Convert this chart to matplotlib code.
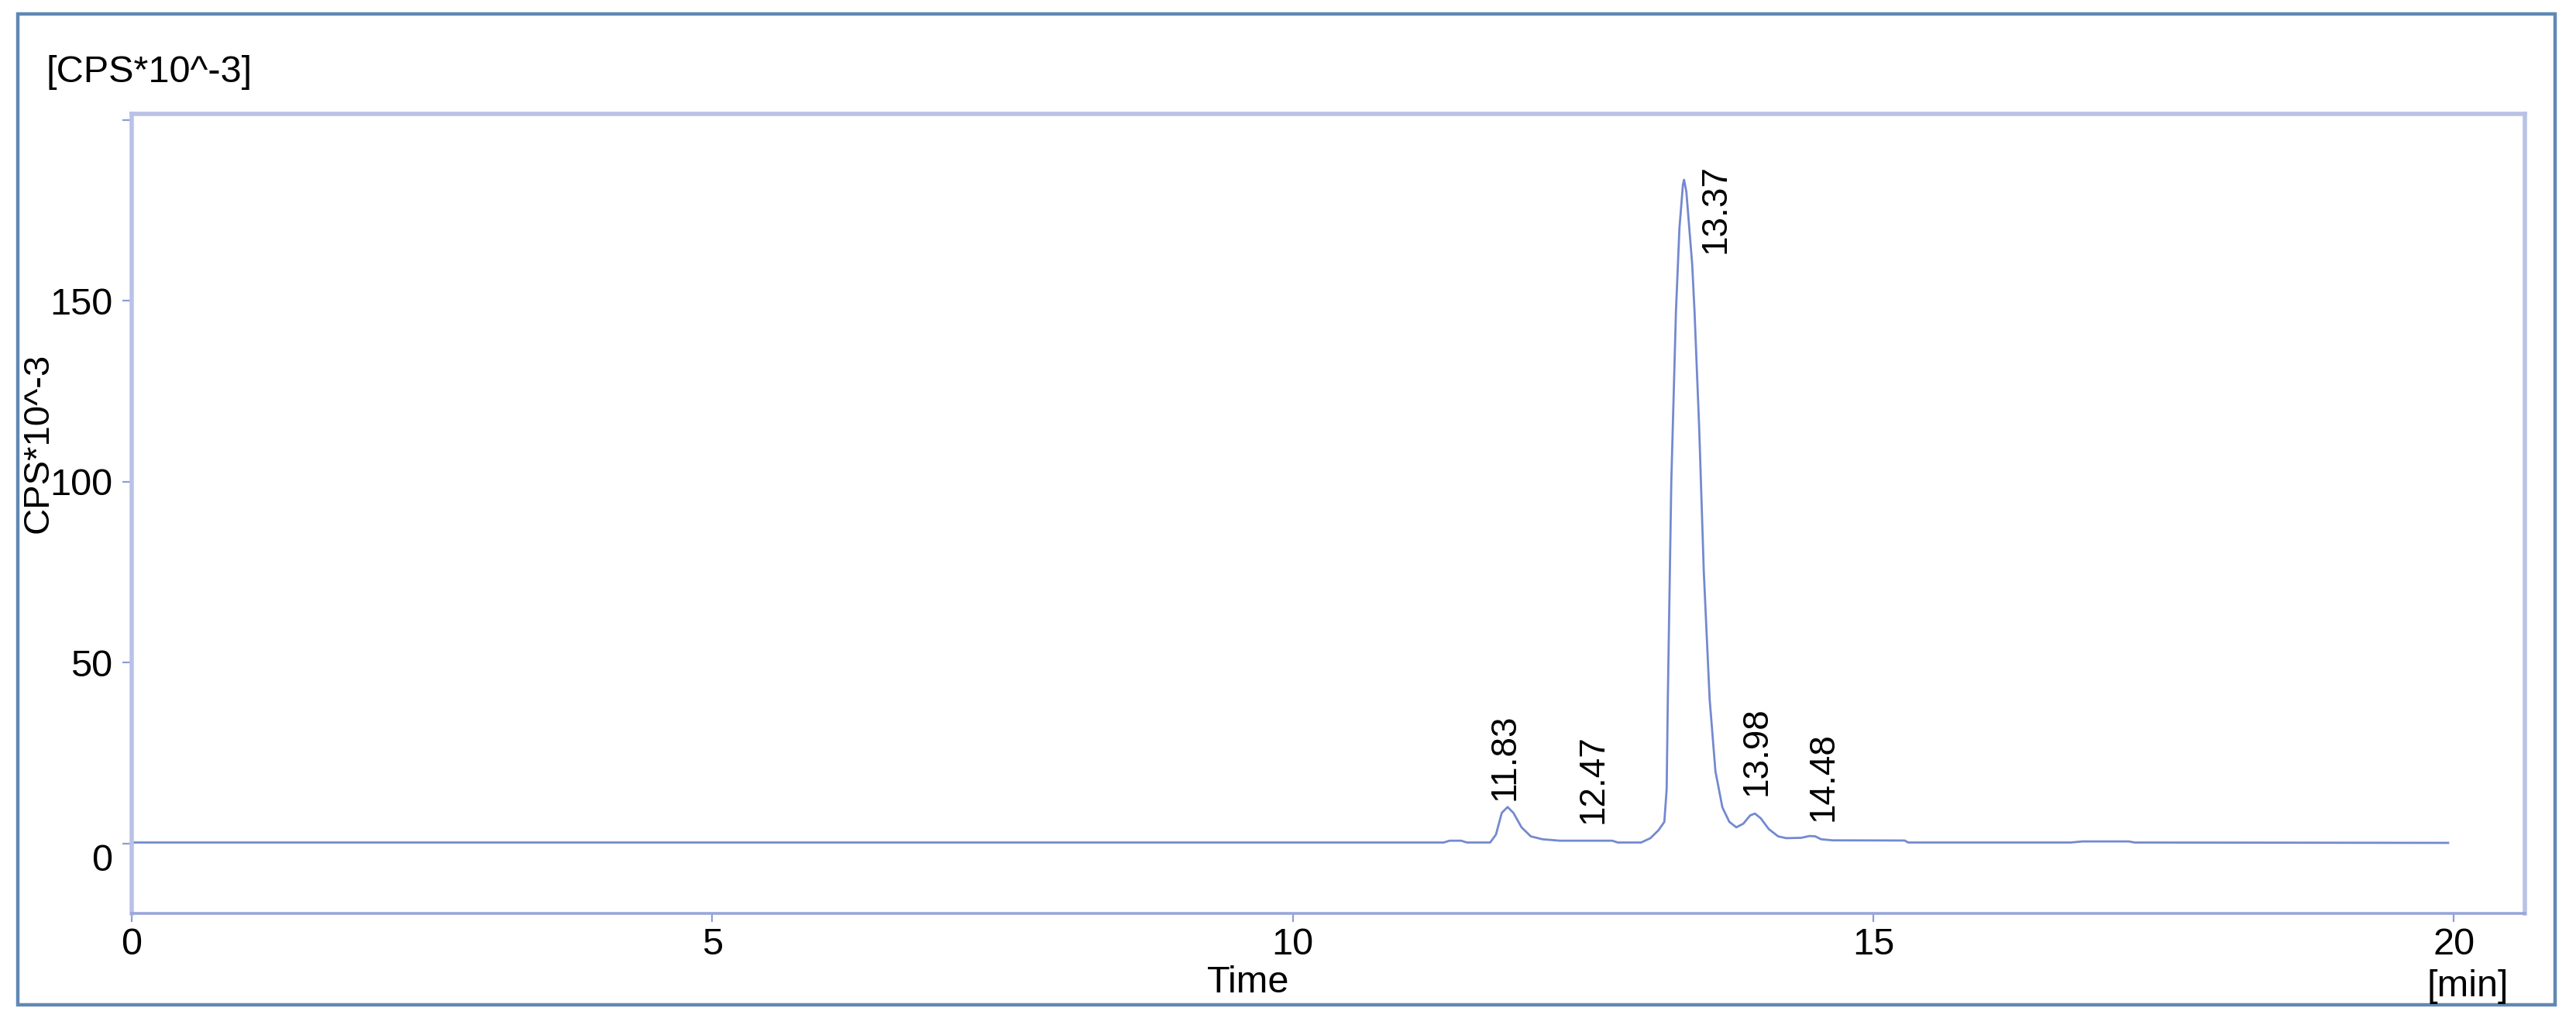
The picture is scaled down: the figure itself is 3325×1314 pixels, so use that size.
"""
色谱图复现: CPS*10^-3 vs Time
"""

import matplotlib
matplotlib.use('Agg')
import matplotlib.pyplot as plt
from matplotlib.patches import Rectangle
from matplotlib.transforms import ScaledTranslation

plt.rcParams['font.family'] = ['Liberation Sans', 'DejaVu Sans']

# 信号曲线 (min, CPS*10^-3)
time_min = [0.0, 11.00, 11.30, 11.35, 11.45, 11.50, 11.70, 11.75, 11.80, 11.85,
            11.90, 11.97, 12.05, 12.15, 12.30, 12.75, 12.80, 13.00, 13.08, 13.15,
            13.20, 13.22, 13.23, 13.26, 13.30, 13.33, 13.36, 13.37, 13.39, 13.41,
            13.44, 13.46, 13.50, 13.54, 13.59, 13.64, 13.70, 13.76, 13.82, 13.88,
            13.94, 13.98, 14.03, 14.10, 14.18, 14.25, 14.38, 14.45, 14.50, 14.55,
            14.65, 15.27, 15.30, 16.70, 16.80, 17.20, 17.25, 19.95]
signal = [0.3, 0.3, 0.3, 0.8, 0.8, 0.3, 0.3, 2.5, 8.5, 10.1,
          8.5, 4.5, 2.0, 1.2, 0.8, 0.8, 0.3, 0.3, 1.5, 3.7,
          6.0, 15.0, 40.0, 100.0, 147.0, 170.0, 182.0, 183.4, 180.0, 172.0,
          160.0, 147.0, 115.0, 75.0, 40.0, 20.0, 10.0, 6.0, 4.5, 5.5,
          7.8, 8.3, 7.0, 4.0, 2.0, 1.5, 1.6, 2.1, 2.0, 1.2,
          0.9, 0.85, 0.3, 0.3, 0.6, 0.6, 0.3, 0.2]

# 峰标注
peak_rt = [11.83, 12.47, 13.37, 13.98, 14.48]
peak_height = [10.1, 0.8, 183.4, 8.3, 2.1]
peak_labels = ['11.83', '12.47', '13.37', '13.98', '14.48']

x_ticks = [0, 5, 10, 15, 20]
y_ticks = [0, 50, 100, 150, 200]
y_tick_labels = ['0', '50', '100', '150', '']

line_color = '#7389d0'
spine_color = '#b9c2e6'
tick_color = '#8d9cd8'
frame_color = '#6088b4'

fig = plt.figure(figsize=(16.625, 6.57), dpi=200)
ax = fig.add_axes([0.0511, 0.1027, 0.9290, 0.7854])

ax.plot(time_min, signal, color=line_color, linewidth=1.0)

ax.set_xlim(0, 20.61)
ax.set_ylim(-19.3, 201.6)
ax.set_xticks(x_ticks)
ax.set_yticks(y_ticks)
ax.set_yticklabels(y_tick_labels)

for side in ['left', 'top', 'right']:
    ax.spines[side].set_color(spine_color)
    ax.spines[side].set_linewidth(2.0)
ax.spines['bottom'].set_color('#97a6dc')
ax.spines['bottom'].set_linewidth(1.3)

ax.tick_params(axis='y', direction='out', length=4.3, width=0.8, color=tick_color,
               labelsize=17.5, pad=4.5)
ax.tick_params(axis='x', direction='out', length=4.0, width=0.8, color=tick_color,
               labelsize=17.5, pad=2.5)

# 原图中 "0" 标签略低于刻度
zero_label = ax.get_yticklabels()[0]
zero_label.set_transform(zero_label.get_transform()
                         + ScaledTranslation(0, -6.5 / 72, fig.dpi_scale_trans))

# 峰标签偏移 (points)
label_offsets = [(0, 3.2), (6.5, 8.0), (14.8, 7.2), (1.0, 8.3), (4.8, 6.8)]
for rt, h, txt, off in zip(peak_rt, peak_height, peak_labels, label_offsets):
    va = 'top' if h > 150 else 'bottom'
    ax.annotate(txt, xy=(rt, h), xytext=off, textcoords='offset points',
                rotation=90, ha='center', va=va, fontsize=16.5)

# 轴标签与单位
fig.text(0.018, 0.929, '[CPS*10^-3]', fontsize=17.5, ha='left', va='center')
fig.text(0.0150, 0.5647, 'CPS*10^-3', fontsize=17, rotation=90, ha='center', va='center')
fig.text(0.4845, 0.035, 'Time', fontsize=17.5, ha='center', va='center')
fig.text(0.958, 0.031, '[min]', fontsize=17.5, ha='center', va='center')

# 外框
fig.patches.append(Rectangle((23 / 3325, 1 - 1297 / 1314), (3298 - 23) / 3325,
                             (1297 - 18) / 1314, transform=fig.transFigure,
                             fill=False, edgecolor=frame_color, linewidth=1.6))

fig.savefig('out.png', dpi=200)
plt.close(fig)
